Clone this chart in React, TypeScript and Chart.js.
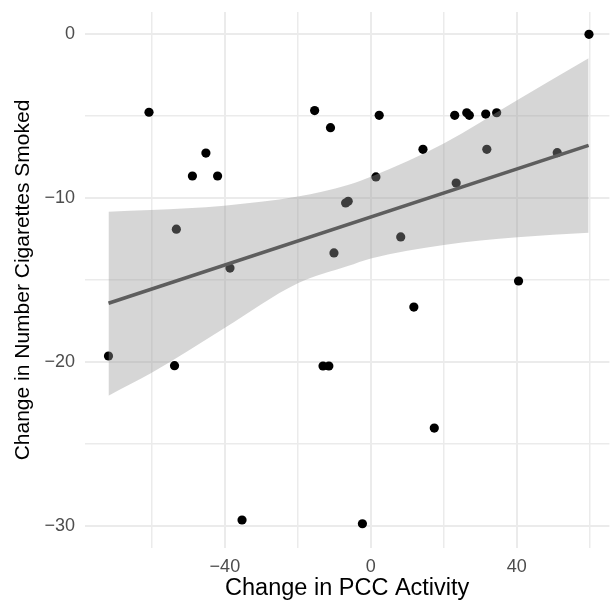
import React, { useEffect, useRef } from "react";
import { Chart, registerables } from "chart.js";

Chart.register(...registerables);

// Scatter data: change in PCC activity (x) vs change in cigarettes smoked (y)
const pccChange = [
  -60.8, -45.2, -48.9, -42.0, -53.3, -38.6, 59.8, -15.4, -11.05, 2.3, 14.3,
  23.0, 26.3, 27.0, 31.5, 34.5, 31.8, 51.1, 1.4, 23.4, -6.9, -6.2, 8.2, -10.1,
  40.5, -71.9, -53.8, -35.3, 11.8, -13.1, -11.5, 17.4, -2.3,
];
const cigChange = [
  -4.76, -7.25, -8.65, -8.65, -11.9, -14.27, 0, -4.66, -5.7, -4.95, -7.02,
  -4.95, -4.79, -4.95, -4.87, -4.79, -7.02, -7.23, -8.71, -9.08, -10.3, -10.2,
  -12.37, -13.35, -15.06, -19.64, -20.23, -29.65, -16.65, -20.25, -20.25,
  -24.04, -29.88,
];

// Fitted line end points
const fitX = [-71.9, 59.7];
const fitY = [-16.42, -6.78];

// Confidence band
const bandX = [-71.9, -60.3, -40.2, -20, -6.3, 0, 20, 40.2, 59.7];
const bandUpper = [-10.83, -10.73, -10.46, -9.91, -9.2, -8.69, -6.66, -4.01, -1.47];
const bandLower = [-22.06, -20.7, -17.95, -15.2, -14.15, -13.68, -12.86, -12.39, -12.11];

// Grid / tick values
const xTicks = [-60, -40, -20, 0, 20, 40, 60];
const xLabelled = [-40, 0, 40];
const yTicks = [-30, -25, -20, -15, -10, -5, 0];
const yLabelled = [-30, -20, -10, 0];

const xTitle = "Change in PCC Activity";
const yTitle = "Change in Number Cigarettes Smoked";

const fmt = (v: number) => (v < 0 ? "\u2212" + Math.abs(v) : String(v));

export default function App() {
  const ref = useRef<HTMLCanvasElement | null>(null);

  useEffect(() => {
    if (!ref.current) return;
    Chart.defaults.font.family = '"Liberation Sans", Arial, sans-serif';
    const chart = new Chart(ref.current, {
      type: "scatter",
      data: {
        datasets: [
          {
            type: "line",
            data: fitX.map((x, i) => ({ x, y: fitY[i] })),
            borderColor: "#5e5e5e",
            borderWidth: 3.5,
            pointRadius: 0,
            fill: false,
            order: 0,
          } as any,
          {
            type: "line",
            data: bandX.map((x, i) => ({ x, y: bandUpper[i] })),
            borderWidth: 0,
            borderColor: "rgba(0,0,0,0)",
            backgroundColor: "rgba(153,153,153,0.4)",
            pointRadius: 0,
            cubicInterpolationMode: "monotone",
            fill: "+1",
            order: 1,
          } as any,
          {
            type: "line",
            data: bandX.map((x, i) => ({ x, y: bandLower[i] })),
            borderWidth: 0,
            borderColor: "rgba(0,0,0,0)",
            pointRadius: 0,
            cubicInterpolationMode: "monotone",
            fill: false,
            order: 2,
          } as any,
          {
            type: "scatter",
            data: pccChange.map((x, i) => ({ x, y: cigChange[i] })),
            backgroundColor: "#000000",
            borderWidth: 0,
            pointRadius: 4.6,
            order: 3,
          } as any,
        ],
      },
      options: {
        responsive: false,
        animation: false,
        layout: { padding: { top: 12, left: 0, right: 0, bottom: 0 } },
        plugins: { legend: { display: false }, tooltip: { enabled: false } },
        scales: {
          x: {
            type: "linear",
            min: -78.34,
            max: 65.4,
            afterBuildTicks: (s: any) => {
              s.ticks = xTicks.map((value) => ({ value }));
            },
            afterFit: (s: any) => {
              s.height = 52;
              s.paddingLeft = 0;
              s.paddingRight = 0;
            },
            border: { display: false },
            grid: {
              color: "#ebebeb",
              drawTicks: false,
              lineWidth: (c: any) => (xLabelled.includes(c.tick?.value) ? 2 : 1.5),
            },
            ticks: {
              autoSkip: false,
              maxRotation: 0,
              padding: 8,
              color: "#4d4d4d",
              font: { size: 18 },
              callback: (v: any) => (xLabelled.includes(Number(v)) ? fmt(Number(v)) : ""),
            },
            title: {
              display: true,
              text: xTitle,
              color: "#000000",
              font: { size: 23.5, lineHeight: 1 },
              padding: { top: 0, bottom: 0 },
            },
          },
          y: {
            type: "linear",
            min: -31.36,
            max: 1.36,
            afterBuildTicks: (s: any) => {
              s.ticks = yTicks.map((value) => ({ value }));
            },
            afterFit: (s: any) => {
              s.width = 85;
              s.paddingTop = 0;
              s.paddingBottom = 0;
            },
            border: { display: false },
            grid: {
              color: "#ebebeb",
              drawTicks: false,
              lineWidth: (c: any) => (yLabelled.includes(c.tick?.value) ? 2 : 1.5),
            },
            ticks: {
              autoSkip: false,
              padding: 10,
              color: "#4d4d4d",
              font: { size: 18 },
              callback: (v: any) => (yLabelled.includes(Number(v)) ? fmt(Number(v)) : ""),
            },
            title: {
              display: true,
              text: yTitle,
              color: "#000000",
              font: { size: 21, lineHeight: 1 },
              padding: { top: 13, bottom: 0 },
            },
          },
        },
      },
    });
    return () => chart.destroy();
  }, []);

  return (
    <div style={{ position: "absolute", left: 0, top: 0, width: 614, height: 600 }}>
      <canvas ref={ref} width={614} height={600} style={{ width: 614, height: 600 }} />
    </div>
  );
}
